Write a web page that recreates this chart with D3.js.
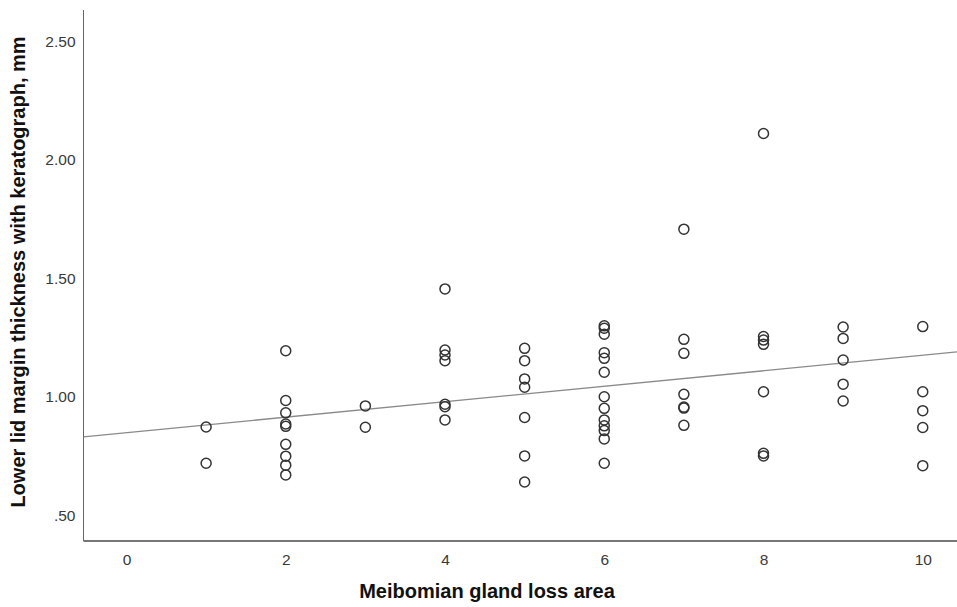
<!DOCTYPE html>
<html>
<head>
<meta charset="utf-8">
<script src="https://cdn.jsdelivr.net/npm/d3@7"></script>
<style>
  body{ margin:0; background:#fff; }
  svg{ display:block; }
  .tick text{ font-family:"Liberation Sans", Arial, sans-serif; font-size:15.5px; fill:#3a3a3a; }
  .title{ font-family:"Liberation Sans Narrow", "Arial Narrow", "Liberation Sans", Arial, sans-serif; font-weight:bold; fill:#111; font-size:20px; }
</style>
</head>
<body>
<svg></svg>
<script>
  // meibomian gland loss area (x) vs lid margin thickness (y)
  var lossArea  = [1,1,
                   2,2,2,2,2,2,2,2,2,
                   3,3,
                   4,4,4,4,4,4,4,
                   5,5,5,5,5,5,5,
                   6,6,6,6,6,6,6,6,6,6,6,6,6,
                   7,7,7,7,7,7,7,
                   8,8,8,8,8,8,8,
                   9,9,9,9,9,
                   10,10,10,10,10];
  var thickness = [0.873,0.72,
                   1.195,0.985,0.933,0.886,0.876,0.80,0.75,0.712,0.671,
                   0.962,0.872,
                   1.456,1.198,1.177,1.153,0.969,0.959,0.903,
                   1.205,1.153,1.076,1.041,0.913,0.751,0.641,
                   1.30,1.29,1.265,1.187,1.163,1.104,1.001,0.952,0.903,0.878,0.858,0.823,0.72,
                   1.708,1.243,1.184,1.011,0.957,0.953,0.88,
                   2.112,1.255,1.24,1.222,1.022,0.762,0.751,
                   1.295,1.247,1.156,1.054,0.983,
                   1.297,1.022,0.942,0.871,0.71];

  var xTicks = [0,2,4,6,8,10];
  var yTicks = [0.5,1.0,1.5,2.0,2.5];

  // fit line
  var fitIntercept = 0.849;
  var fitSlope = 0.0327;

  var draw = function(){
    var svgwidth = 957, svgheight = 607;
    var svg = d3.select('svg').attr('width',svgwidth).attr('height',svgheight);

    var margins = { left:83.5, right:957, top:10, bottom:541 };

    var xScale = d3.scaleLinear().domain([-0.54,10.43]).range([margins.left,margins.right]);
    var yScale = d3.scaleLinear().domain([0.392,2.633]).range([margins.bottom,margins.top]);

    // axes (no tick marks, like SPSS)
    var xAxis = d3.axisBottom(xScale).tickValues(xTicks).tickSize(0).tickPadding(13)
                  .tickFormat(d3.format('d'));
    var gx = svg.append('g').attr('transform','translate(0,'+margins.bottom+')').call(xAxis);
    gx.select('.domain').remove();

    var yAxis = d3.axisLeft(yScale).tickValues(yTicks).tickSize(0).tickPadding(8)
                  .tickFormat(function(d){ return d3.format('.2f')(d).replace(/^0/,''); });
    var gy = svg.append('g').attr('transform','translate('+margins.left+',0)').call(yAxis);
    gy.select('.domain').remove();

    svg.append('line')
       .attr('x1',margins.left).attr('x2',margins.left)
       .attr('y1',margins.top).attr('y2',margins.bottom)
       .attr('stroke','#666').attr('stroke-width',1);
    svg.append('line')
       .attr('x1',margins.left).attr('x2',margins.right)
       .attr('y1',margins.bottom).attr('y2',margins.bottom)
       .attr('stroke','#777').attr('stroke-width',2);

    // fit line
    var x0 = xScale.domain()[0], x1 = xScale.domain()[1];
    svg.append('line')
       .attr('x1',xScale(x0)).attr('y1',yScale(fitIntercept+fitSlope*x0))
       .attr('x2',xScale(x1)).attr('y2',yScale(fitIntercept+fitSlope*x1))
       .attr('stroke','#8a8a8a').attr('stroke-width',1.4);

    // points
    svg.append('g').selectAll('circle')
       .data(lossArea)
       .enter()
       .append('circle')
       .attr('cx',function(d){ return xScale(d); })
       .attr('cy',function(d,i){ return yScale(thickness[i]); })
       .attr('r',5)
       .attr('fill','none')
       .attr('stroke','#333')
       .attr('stroke-width',1.5);

    // titles
    svg.append('text').attr('class','title')
       .attr('x',487).attr('y',598)
       .attr('text-anchor','middle')
       .text('Meibomian gland loss area');

    svg.append('text').attr('class','title')
       .attr('transform','translate(25,272) rotate(-90)')
       .attr('text-anchor','middle')
       .text('Lower lid margin thickness with keratograph, mm');
  }

  draw();
</script>
</body>
</html>
